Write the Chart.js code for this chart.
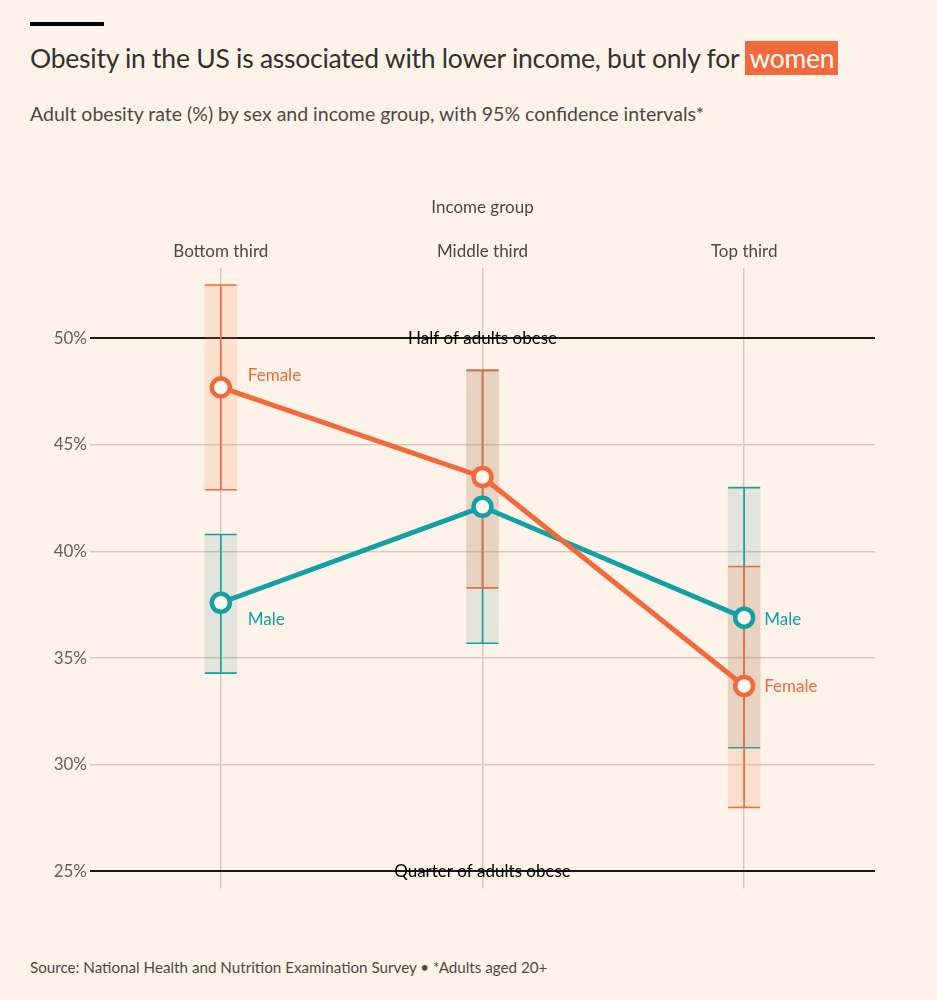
<!DOCTYPE html>
<html lang="en">
<head>
<meta charset="UTF-8">
<title>Obesity in the US by income</title>
<script src="https://cdn.jsdelivr.net/npm/chart.js"></script>
<style>
  body { margin: 0; background: #fdf3e8; font-family: Lato, "Noto Sans", sans-serif; }
  #page { position: relative; width: 937px; height: 1000px; background: #fdf3e8; }
  .bar { position: absolute; left: 30px; top: 22px; width: 74px; height: 4px; background: #000; }
  h1 { position: absolute; left: 30px; top: 42px; margin: 0; font-weight: 400; font-size: 26.5px; color: #33302e; white-space: nowrap; letter-spacing: -0.25px; }
  h1 span { background: #f26a3b; color: #fff; padding: 1px 4px; }
  .sub { position: absolute; left: 30px; top: 102px; font-size: 19.5px; color: #4d4845; white-space: nowrap; }
  .src { position: absolute; left: 30px; top: 958px; font-size: 15.2px; color: #4d4845; white-space: nowrap; }
  #wrap { position: absolute; left: 0; top: 180px; width: 937px; height: 722px; }
</style>
</head>
<body>
<div id="page">
  <div class="bar"></div>
  <h1>Obesity in the US is associated with lower income, but only for <span>women</span></h1>
  <div class="sub">Adult obesity rate (%) by sex and income group, with 95% confidence intervals*</div>
  <div id="wrap"><canvas id="chart"></canvas></div>
  <div class="src">Source: National Health and Nutrition Examination Survey • *Adults aged 20+</div>
</div>
<script>
// dati
const categories = ['Bottom third', 'Middle third', 'Top third'];
const female = [47.7, 43.5, 33.7];
const femaleLow = [42.9, 38.3, 28.0];
const femaleHigh = [52.5, 48.5, 39.3];
const male = [37.6, 42.1, 36.9];
const maleLow = [34.3, 35.7, 30.8];
const maleHigh = [40.8, 48.5, 43.0];
const yTicks = [25, 30, 35, 40, 45, 50];
const refValues = [50, 25];
const refLabels = ['Half of adults obese', 'Quarter of adults obese'];

const ORANGE = '#f26a3b';
const TEAL = '#11a0a6';
const GRID = '#d3cbc1';

// whiskers of the confidence intervals, drawn after each band
const whiskers = {
  id: 'whiskers',
  afterDatasetDraw(chart, args) {
    const ds = chart.data.datasets[args.index];
    if (!ds.whisker) return;
    const ctx = chart.ctx, x = chart.scales.x, y = chart.scales.y;
    ctx.save();
    ctx.strokeStyle = ds.whisker;
    ctx.lineWidth = 1.6;
    ds.data.forEach((r, i) => {
      const cx = x.getPixelForValue(i);
      const y1 = y.getPixelForValue(r[0]), y2 = y.getPixelForValue(r[1]);
      ctx.beginPath();
      ctx.moveTo(cx, y1); ctx.lineTo(cx, y2);
      ctx.moveTo(cx - 16, y1); ctx.lineTo(cx + 16, y1);
      ctx.moveTo(cx - 16, y2); ctx.lineTo(cx + 16, y2);
      ctx.stroke();
    });
    ctx.restore();
  }
};

// reference lines text + series labels
const annotations = {
  id: 'annotations',
  afterDraw(chart) {
    const ctx = chart.ctx, x = chart.scales.x, y = chart.scales.y, area = chart.chartArea;
    ctx.save();
    ctx.font = '17px Lato';
    ctx.textBaseline = 'middle';
    ctx.textAlign = 'center';
    ctx.fillStyle = '#000';
    refValues.forEach((v, i) => {
      ctx.fillText(refLabels[i], (area.left + area.right) / 2, y.getPixelForValue(v));
    });
    ctx.textAlign = 'left';
    const put = (txt, col, i, v, dx, dy) => {
      ctx.fillStyle = col;
      ctx.fillText(txt, x.getPixelForValue(i) + dx, y.getPixelForValue(v) + dy);
    };
    put('Female', ORANGE, 0, female[0], 27, -12);
    put('Male', TEAL, 0, male[0], 27, 17);
    put('Male', TEAL, 2, male[2], 20, 2);
    put('Female', ORANGE, 2, female[2], 20, 1);
    ctx.restore();
  }
};

Chart.defaults.font.family = 'Lato';
Chart.defaults.color = '#4d4845';

new Chart(document.getElementById('chart'), {
  data: {
    labels: categories,
    datasets: [
      {
        type: 'line', label: 'Female', data: female, order: 1,
        borderColor: ORANGE, borderWidth: 5, pointRadius: 9, pointBorderWidth: 4.5,
        pointBackgroundColor: '#fff8f1', pointBorderColor: ORANGE
      },
      {
        type: 'line', label: 'Male', data: male, order: 2,
        borderColor: TEAL, borderWidth: 5, pointRadius: 9, pointBorderWidth: 4.5,
        pointBackgroundColor: '#fff8f1', pointBorderColor: TEAL
      },
      {
        type: 'bar', label: 'Female CI', order: 3, grouped: false, barThickness: 32,
        data: femaleLow.map((v, i) => [v, femaleHigh[i]]),
        backgroundColor: 'rgba(255,120,70,0.16)', whisker: ORANGE
      },
      {
        type: 'bar', label: 'Male CI', order: 4, grouped: false, barThickness: 32,
        data: maleLow.map((v, i) => [v, maleHigh[i]]),
        backgroundColor: 'rgba(0,100,110,0.1)', whisker: TEAL
      }
    ]
  },
  options: {
    responsive: true,
    maintainAspectRatio: false,
    animation: false,
    layout: { padding: { top: 17, right: 62, bottom: 0, left: 0 } },
    plugins: { legend: { display: false }, tooltip: { enabled: false } },
    scales: {
      x: {
        type: 'category',
        position: 'top',
        offset: true,
        grid: { offset: false, color: GRID, lineWidth: 1.5, drawTicks: false },
        border: { display: false },
        ticks: { font: { size: 17 }, color: '#4d4845', padding: 6 },
        title: { display: true, text: 'Income group', font: { size: 17 }, color: '#4d4845', padding: { top: 0, bottom: 13 } },
        afterFit(s) { s.height = 71; }
      },
      y: {
        min: 24.2,
        max: 53.3,
        afterBuildTicks(s) { s.ticks = yTicks.map(v => ({ value: v })); },
        grid: {
          drawTicks: false,
          color: c => refValues.includes(c.tick.value) ? '#1a1817' : GRID,
          lineWidth: c => refValues.includes(c.tick.value) ? 2 : 1.5
        },
        border: { display: false },
        ticks: { font: { size: 17 }, color: '#66605c', padding: 3, callback: v => v + '%' },
        afterFit(s) { s.width = 90; }
      }
    }
  },
  plugins: [whiskers, annotations]
});
</script>
</body>
</html>
